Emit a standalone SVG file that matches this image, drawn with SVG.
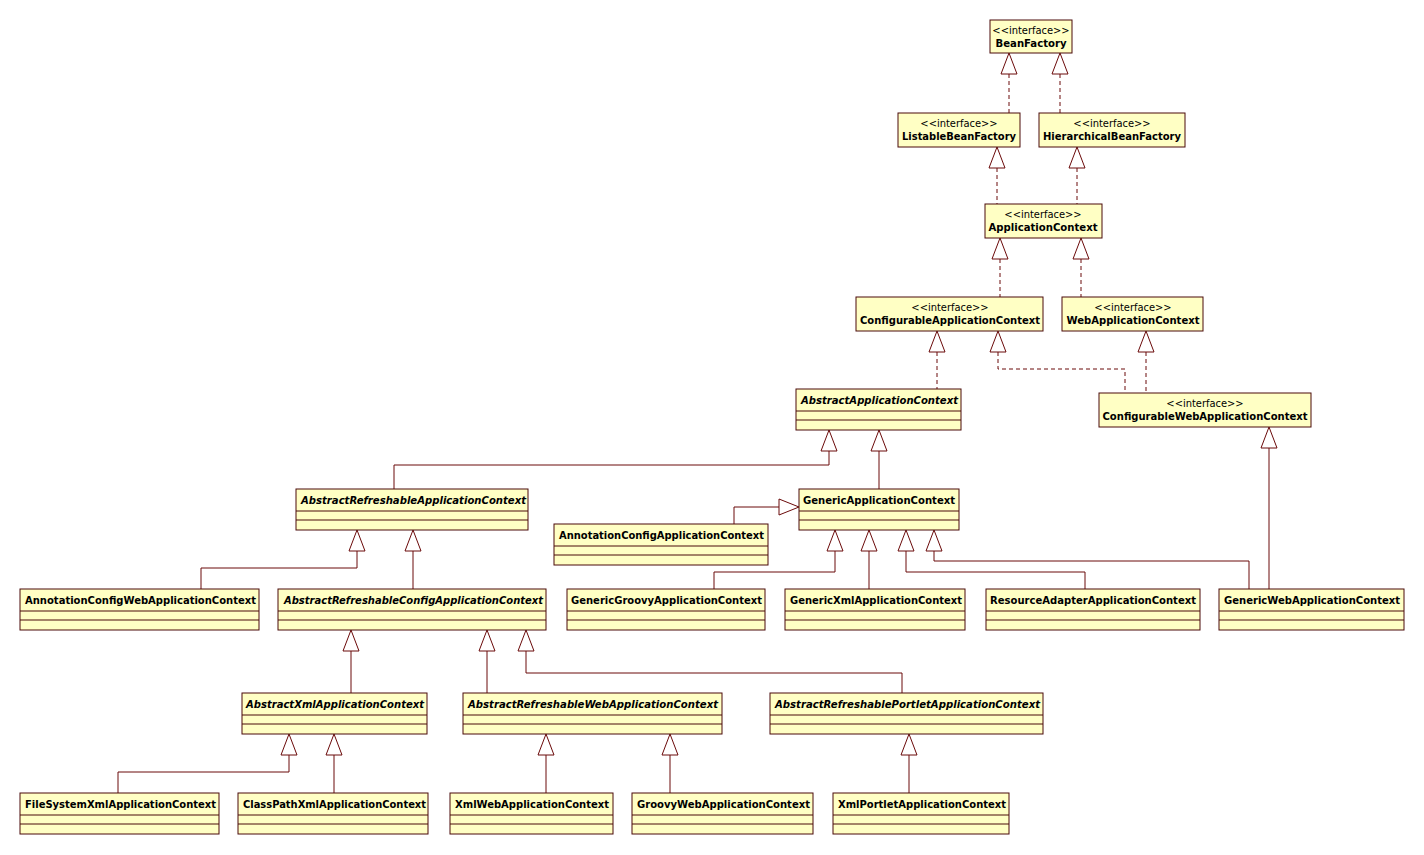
<svg xmlns="http://www.w3.org/2000/svg" width="1424" height="855" viewBox="0 0 1424 855">
<style>
.box{fill:#ffffc4;stroke:#4a0a0a;stroke-width:1}
.div{stroke:#4a0a0a;stroke-width:1}
.n{font-family:"DejaVu Sans Condensed","DejaVu Sans","Liberation Sans",sans-serif;font-size:11px;font-weight:bold;fill:#000}
.a{font-style:italic}
.st{font-family:"DejaVu Sans Condensed","DejaVu Sans","Liberation Sans",sans-serif;font-size:11px;fill:#000}
.c{fill:none;stroke:#6b0a0a;stroke-width:1}
.d{stroke-dasharray:4 3}
.tri{fill:#fff;stroke:#6b0a0a;stroke-width:1}
</style>
<rect width="1424" height="855" fill="#fff"/>
<g id="connectors">
<path class="c d" d="M1009 74V113M1060 74V113M997 168V204M1077 168V204M1000 259V297M1081 259V297M937 352V389M998 352V369H1125V393M1146 352V393"/>
<path class="c" d="M829 451V465H394V489M879 451V489M1269 448V589M357 551V568H201V589M413 551V589M779 507H734V524M835 551V572H714V589M869 551V589M906 551V572H1085V589M934 551V561H1249V589M351 651V693M487 651V693M526 651V673H902V693M289 755V772H118V793M334 755V793M546 755V793M670 755V793M909 755V793"/>
<path class="tri" d="M1009 53l8 21h-16zM1060 53l8 21h-16zM997 147l8 21h-16zM1077 147l8 21h-16zM1000 238l8 21h-16zM1081 238l8 21h-16zM937 331l8 21h-16zM998 331l8 21h-16zM1146 331l8 21h-16zM829 430l8 21h-16zM879 430l8 21h-16zM1269 427l8 21h-16zM357 530l8 21h-16zM413 530l8 21h-16zM835 530l8 21h-16zM869 530l8 21h-16zM906 530l8 21h-16zM934 530l8 21h-16zM799 507l-20 8v-16zM351 630l8 21h-16zM487 630l8 21h-16zM526 630l8 21h-16zM289 734l8 21h-16zM334 734l8 21h-16zM546 734l8 21h-16zM670 734l8 21h-16zM909 734l8 21h-16z"/>
</g>
<g id="BeanFactory"><rect class="box" x="990" y="20" width="82" height="33"/><text class="st" x="1031" y="34" text-anchor="middle">&lt;&lt;interface&gt;&gt;</text><text class="n" x="1031" y="47" text-anchor="middle" textLength="71" lengthAdjust="spacingAndGlyphs">BeanFactory</text></g>
<g id="ListableBeanFactory"><rect class="box" x="898" y="113" width="122" height="34"/><text class="st" x="959" y="127" text-anchor="middle">&lt;&lt;interface&gt;&gt;</text><text class="n" x="959" y="140" text-anchor="middle" textLength="114" lengthAdjust="spacingAndGlyphs">ListableBeanFactory</text></g>
<g id="HierarchicalBeanFactory"><rect class="box" x="1039" y="113" width="146" height="34"/><text class="st" x="1112" y="127" text-anchor="middle">&lt;&lt;interface&gt;&gt;</text><text class="n" x="1112" y="140" text-anchor="middle" textLength="138" lengthAdjust="spacingAndGlyphs">HierarchicalBeanFactory</text></g>
<g id="ApplicationContext"><rect class="box" x="985" y="204" width="117" height="34"/><text class="st" x="1043" y="218" text-anchor="middle">&lt;&lt;interface&gt;&gt;</text><text class="n" x="1043" y="231" text-anchor="middle" textLength="109" lengthAdjust="spacingAndGlyphs">ApplicationContext</text></g>
<g id="ConfigurableApplicationContext"><rect class="box" x="856" y="297" width="187" height="34"/><text class="st" x="950" y="311" text-anchor="middle">&lt;&lt;interface&gt;&gt;</text><text class="n" x="950" y="324" text-anchor="middle" textLength="180" lengthAdjust="spacingAndGlyphs">ConfigurableApplicationContext</text></g>
<g id="WebApplicationContext"><rect class="box" x="1062" y="297" width="141" height="34"/><text class="st" x="1133" y="311" text-anchor="middle">&lt;&lt;interface&gt;&gt;</text><text class="n" x="1133" y="324" text-anchor="middle" textLength="133" lengthAdjust="spacingAndGlyphs">WebApplicationContext</text></g>
<g id="ConfigurableWebApplicationContext"><rect class="box" x="1099" y="393" width="212" height="34"/><text class="st" x="1205" y="407" text-anchor="middle">&lt;&lt;interface&gt;&gt;</text><text class="n" x="1205" y="420" text-anchor="middle" textLength="205" lengthAdjust="spacingAndGlyphs">ConfigurableWebApplicationContext</text></g>
<g id="AbstractApplicationContext"><rect class="box" x="796" y="389" width="165" height="41"/><path class="div" d="M796 411H961M796 420H961"/><text class="n a" x="801" y="404" textLength="157" lengthAdjust="spacingAndGlyphs">AbstractApplicationContext</text></g>
<g id="AbstractRefreshableApplicationContext"><rect class="box" x="296" y="489" width="232" height="41"/><path class="div" d="M296 511H528M296 520H528"/><text class="n a" x="301" y="504" textLength="225" lengthAdjust="spacingAndGlyphs">AbstractRefreshableApplicationContext</text></g>
<g id="GenericApplicationContext"><rect class="box" x="799" y="489" width="160" height="41"/><path class="div" d="M799 511H959M799 520H959"/><text class="n" x="803" y="504" textLength="152" lengthAdjust="spacingAndGlyphs">GenericApplicationContext</text></g>
<g id="AnnotationConfigApplicationContext"><rect class="box" x="554" y="524" width="214" height="41"/><path class="div" d="M554 546H768M554 555H768"/><text class="n" x="559" y="539" textLength="205" lengthAdjust="spacingAndGlyphs">AnnotationConfigApplicationContext</text></g>
<g id="AnnotationConfigWebApplicationContext"><rect class="box" x="20" y="589" width="239" height="41"/><path class="div" d="M20 611H259M20 620H259"/><text class="n" x="25" y="604" textLength="231" lengthAdjust="spacingAndGlyphs">AnnotationConfigWebApplicationContext</text></g>
<g id="AbstractRefreshableConfigApplicationContext"><rect class="box" x="278" y="589" width="268" height="41"/><path class="div" d="M278 611H546M278 620H546"/><text class="n a" x="284" y="604" textLength="259" lengthAdjust="spacingAndGlyphs">AbstractRefreshableConfigApplicationContext</text></g>
<g id="GenericGroovyApplicationContext"><rect class="box" x="567" y="589" width="198" height="41"/><path class="div" d="M567 611H765M567 620H765"/><text class="n" x="571" y="604" textLength="191" lengthAdjust="spacingAndGlyphs">GenericGroovyApplicationContext</text></g>
<g id="GenericXmlApplicationContext"><rect class="box" x="785" y="589" width="180" height="41"/><path class="div" d="M785 611H965M785 620H965"/><text class="n" x="790" y="604" textLength="172" lengthAdjust="spacingAndGlyphs">GenericXmlApplicationContext</text></g>
<g id="ResourceAdapterApplicationContext"><rect class="box" x="986" y="589" width="214" height="41"/><path class="div" d="M986 611H1200M986 620H1200"/><text class="n" x="990" y="604" textLength="206" lengthAdjust="spacingAndGlyphs">ResourceAdapterApplicationContext</text></g>
<g id="GenericWebApplicationContext"><rect class="box" x="1219" y="589" width="185" height="41"/><path class="div" d="M1219 611H1404M1219 620H1404"/><text class="n" x="1224" y="604" textLength="176" lengthAdjust="spacingAndGlyphs">GenericWebApplicationContext</text></g>
<g id="AbstractXmlApplicationContext"><rect class="box" x="242" y="693" width="185" height="41"/><path class="div" d="M242 715H427M242 724H427"/><text class="n a" x="246" y="708" textLength="178" lengthAdjust="spacingAndGlyphs">AbstractXmlApplicationContext</text></g>
<g id="AbstractRefreshableWebApplicationContext"><rect class="box" x="463" y="693" width="259" height="41"/><path class="div" d="M463 715H722M463 724H722"/><text class="n a" x="468" y="708" textLength="250" lengthAdjust="spacingAndGlyphs">AbstractRefreshableWebApplicationContext</text></g>
<g id="AbstractRefreshablePortletApplicationContext"><rect class="box" x="770" y="693" width="273" height="41"/><path class="div" d="M770 715H1043M770 724H1043"/><text class="n a" x="775" y="708" textLength="265" lengthAdjust="spacingAndGlyphs">AbstractRefreshablePortletApplicationContext</text></g>
<g id="FileSystemXmlApplicationContext"><rect class="box" x="20" y="793" width="199" height="41"/><path class="div" d="M20 815H219M20 824H219"/><text class="n" x="25" y="808" textLength="191" lengthAdjust="spacingAndGlyphs">FileSystemXmlApplicationContext</text></g>
<g id="ClassPathXmlApplicationContext"><rect class="box" x="238" y="793" width="190" height="41"/><path class="div" d="M238 815H428M238 824H428"/><text class="n" x="243" y="808" textLength="183" lengthAdjust="spacingAndGlyphs">ClassPathXmlApplicationContext</text></g>
<g id="XmlWebApplicationContext"><rect class="box" x="450" y="793" width="163" height="41"/><path class="div" d="M450 815H613M450 824H613"/><text class="n" x="455" y="808" textLength="154" lengthAdjust="spacingAndGlyphs">XmlWebApplicationContext</text></g>
<g id="GroovyWebApplicationContext"><rect class="box" x="632" y="793" width="181" height="41"/><path class="div" d="M632 815H813M632 824H813"/><text class="n" x="637" y="808" textLength="173" lengthAdjust="spacingAndGlyphs">GroovyWebApplicationContext</text></g>
<g id="XmlPortletApplicationContext"><rect class="box" x="833" y="793" width="176" height="41"/><path class="div" d="M833 815H1009M833 824H1009"/><text class="n" x="838" y="808" textLength="168" lengthAdjust="spacingAndGlyphs">XmlPortletApplicationContext</text></g>
</svg>
